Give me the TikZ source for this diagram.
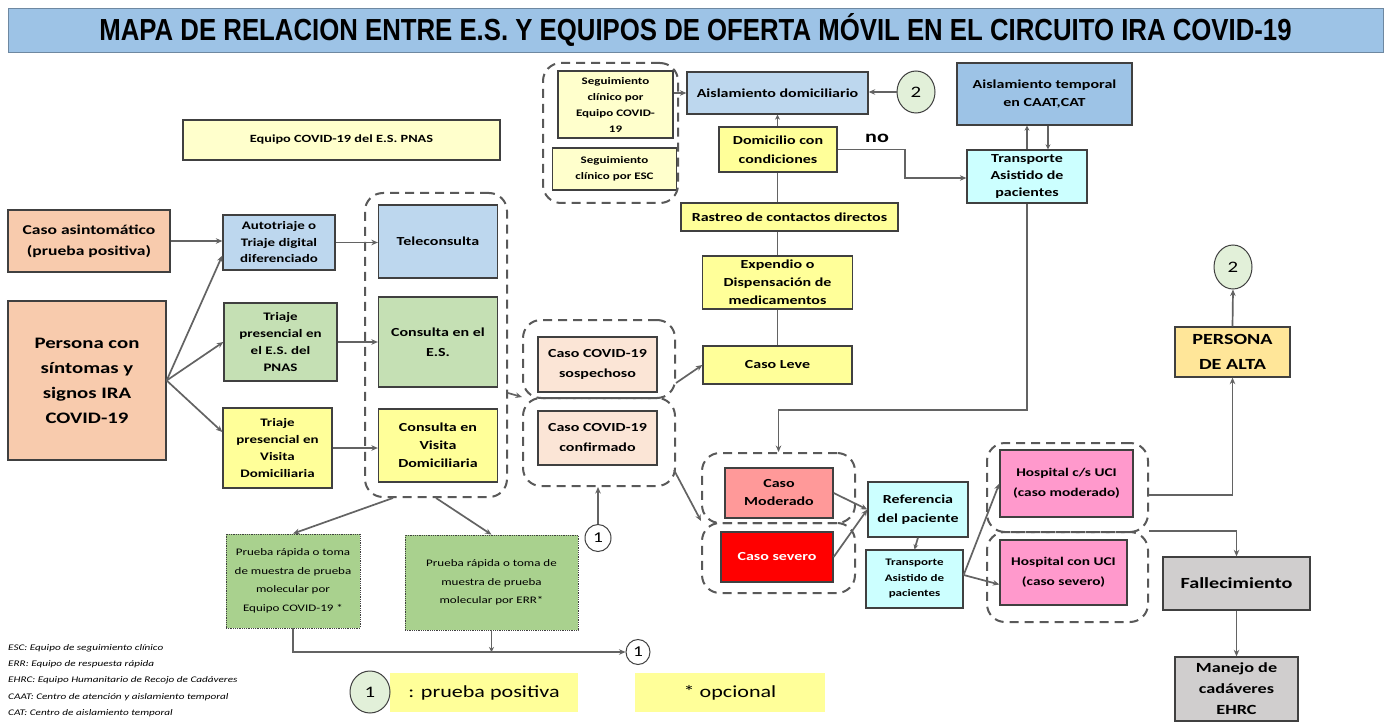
\documentclass[tikz,border=0pt]{standalone}
\usepackage{graphicx}
\usepackage{fontspec}
\setmainfont{Carlito}[FakeStretch=1.3]
\newfontfamily\titlefont{Liberation Sans}
\usetikzlibrary{arrows.meta,shapes.geometric}
\definecolor{titleblue}{HTML}{9DC3E6}
\definecolor{ltblue}{HTML}{BDD7EE}
\definecolor{midblue}{HTML}{9DC3E6}
\definecolor{green}{HTML}{C5E0B4}
\definecolor{yel}{HTML}{FFFF99}
\definecolor{ltyel}{HTML}{FFFFCC}
\definecolor{peach}{HTML}{F8CBAD}
\definecolor{lpeach}{HTML}{FBE5D6}
\definecolor{salmon}{HTML}{FF9999}
\definecolor{sred}{HTML}{FF0000}
\definecolor{cyan}{HTML}{CCFFFF}
\definecolor{pink}{HTML}{FF99CC}
\definecolor{gold}{HTML}{FFE699}
\definecolor{gry}{HTML}{D0CECE}
\definecolor{pgreen}{HTML}{A9D18E}
\definecolor{cgreen}{HTML}{E2F0D9}
\definecolor{boxline}{HTML}{404040}
\definecolor{arrline}{HTML}{636363}
\definecolor{grpline}{HTML}{595959}
\newcommand\fs[2]{\fontsize{#1}{#2}\selectfont}
\tikzset{
  box/.style={draw=boxline, line width=1.3pt, align=center, inner sep=0pt, font=\bfseries\fs{12.3}{18}},
  grp/.style={draw=grpline, dash pattern=on 9pt off 6pt, line width=2pt, rounded corners=18pt, inner sep=0pt},
  arr/.style={draw=arrline, line width=1.7pt, -{Stealth[length=6.5pt,width=5.5pt]}},
  sarr/.style={draw=arrline, line width=1.7pt, -{Stealth[length=5pt,width=5pt]}},
  ln/.style={draw=arrline, line width=1.7pt},
  num/.style={ellipse, draw=boxline, line width=1pt, inner sep=0pt, font=\fs{16}{16}},
  legtxt/.style={anchor=west, inner sep=0pt, font=\itshape\fs{8.6}{10}},
  legbox/.style={fill=yel, inner sep=0pt, minimum height=39pt, font=\fs{17}{20}}
}
\begin{document}
\begin{tikzpicture}[x=1pt,y=-1pt]
\useasboundingbox (0,0) rectangle (1392,722);
\fill[white] (0,0) rectangle (1392,722);
% title
\node[draw=titleblue!70!black, line width=0.8pt, fill=titleblue, minimum width=1375pt, minimum height=44pt, inner sep=0pt] (title) at (695.5,30)
  {\raisebox{-1pt}{\titlefont\bfseries\resizebox{1192pt}{27pt}{MAPA DE RELACION ENTRE E.S. Y EQUIPOS DE OFERTA MÓVIL EN EL CIRCUITO IRA COVID-19}}};
% left
\node[box,fill=ltyel,minimum width=317pt,minimum height=40pt,font=\bfseries\fs{11}{14}] (equipo) at (341.5,140) {Equipo COVID-19 del E.S. PNAS};
\node[box,fill=peach,minimum width=162pt,minimum height=62pt,font=\bfseries\fs{13.5}{21}] (asint) at (89,241) {Caso asintomático\\(prueba positiva)};
\node[box,fill=peach,minimum width=158pt,minimum height=159pt,font=\bfseries\fs{16}{25}] (persona) at (87,380.5) {Persona con\\síntomas y\\signos IRA\\COVID-19};
\node[box,fill=ltblue,minimum width=112pt,minimum height=55pt,font=\bfseries\fs{11.5}{16.5}] (auto) at (279,242.5) {Autotriaje o\\Triaje digital\\diferenciado};
\node[box,fill=green,minimum width=113pt,minimum height=78pt,font=\bfseries\fs{11.5}{17}] (triajeES) at (280.5,342) {Triaje\\presencial en\\el E.S. del\\PNAS};
\node[box,fill=yel,minimum width=109pt,minimum height=80pt,font=\bfseries\fs{11.5}{17}] (triajeVD) at (277.5,448) {Triaje\\presencial en\\Visita\\Domiciliaria};
% consultas
\node[box,fill=ltblue,minimum width=119pt,minimum height=73pt] (tele) at (438,241.5) {Teleconsulta};
\node[box,fill=green,minimum width=119pt,minimum height=90pt,font=\bfseries\fs{12.3}{20}] (consES) at (438,342) {Consulta en el\\E.S.};
\node[box,fill=yel,minimum width=119pt,minimum height=73pt] (consVD) at (438,445.5) {Consulta en\\Visita\\Domiciliaria};
\node[grp,minimum width=142pt,minimum height=304pt] (g1) at (436,345) {};
% casos
\node[box,fill=lpeach,minimum width=119pt,minimum height=55pt,font=\bfseries\fs{12.3}{20}] (sosp) at (597.5,364.5) {Caso COVID-19\\sospechoso};
\node[box,fill=lpeach,minimum width=119pt,minimum height=54pt,font=\bfseries\fs{12.3}{20}] (conf) at (597.5,438) {Caso COVID-19\\confirmado};
\node[grp,minimum width=152pt,minimum height=78pt] (g2) at (599,359) {};
\node[grp,minimum width=152pt,minimum height=88pt] (g3) at (599,442) {};
% caso leve column
\node[box,fill=yel,minimum width=149pt,minimum height=38pt] (leve) at (777.5,365) {Caso Leve};
\node[box,fill=yel,minimum width=150pt,minimum height=53pt] (expendio) at (777.5,282.5) {Expendio o\\Dispensación de\\medicamentos};
\node[box,fill=yel,minimum width=217pt,minimum height=28pt] (rastreo) at (789.5,217) {Rastreo de contactos directos};
\node[box,fill=yel,minimum width=118pt,minimum height=45pt,font=\bfseries\fs{12.3}{19}] (domicilio) at (778,149.5) {Domicilio con\\condiciones};
\node[box,fill=ltblue,minimum width=181pt,minimum height=42pt] (aisdom) at (777.5,93) {Aislamiento domiciliario};
\node[num,fill=cgreen,minimum width=38pt,minimum height=42pt] (c2a) at (916,92) {2};
% seguimiento
\node[box,fill=ltyel,minimum width=115pt,minimum height=67pt,font=\bfseries\fs{10}{16}] (seg1) at (615.5,104.5) {Seguimiento\\clínico por\\Equipo COVID-\\19};
\node[box,fill=ltyel,minimum width=124pt,minimum height=42pt,font=\bfseries\fs{10}{16}] (seg2) at (614.5,169) {Seguimiento\\clínico por ESC};
\node[grp,minimum width=135pt,minimum height=140pt] (gseg) at (610.5,133) {};
% transporte / aislamiento temporal
\node[box,fill=midblue,minimum width=175pt,minimum height=62pt] (aistemp) at (1044.5,94) {Aislamiento temporal\\en CAAT,CAT};
\node[box,fill=cyan,minimum width=120pt,minimum height=53pt,font=\bfseries\fs{12.3}{17}] (transp1) at (1027,176.5) {Transporte\\Asistido de\\pacientes};
\node[font=\bfseries\fs{17}{17},inner sep=0pt] (nolab) at (877,138) {no};
\coordinate (noB) at (905,178);
\coordinate (turn) at (778.5,410);
% moderado / severo
\node[box,fill=salmon,minimum width=108pt,minimum height=50pt] (modC) at (779,493) {Caso\\Moderado};
\node[box,fill=sred,minimum width=112pt,minimum height=50pt,text=white] (sevC) at (777,557) {Caso severo};
\node[grp,minimum width=153pt,minimum height=70pt] (gmod) at (778.5,488) {};
\node[grp,minimum width=153pt,minimum height=70pt] (gsev) at (778.5,558) {};
\node[box,fill=cyan,minimum width=100pt,minimum height=55pt,font=\bfseries\fs{12.3}{19}] (ref) at (918,509.5) {Referencia\\del paciente};
\node[box,fill=cyan,minimum width=97pt,minimum height=58pt,font=\bfseries\fs{10}{15.5}] (transp2) at (914.5,579) {Transporte\\Asistido de\\pacientes};
% hospitals
\node[box,fill=pink,minimum width=133pt,minimum height=67pt,font=\bfseries\fs{11.8}{20}] (hosp1) at (1066.5,483.5) {Hospital c/s UCI\\(caso moderado)};
\node[box,fill=pink,minimum width=127pt,minimum height=65pt,font=\bfseries\fs{11.8}{20}] (hosp2) at (1063.5,572.5) {Hospital con UCI\\(caso severo)};
\node[grp,minimum width=161pt,minimum height=89pt] (gh1) at (1067.5,487.5) {};
\node[grp,minimum width=161pt,minimum height=90pt] (gh2) at (1067.5,577) {};
% right column
\node[box,fill=gold,minimum width=115pt,minimum height=50pt,font=\bfseries\fs{15.5}{25}] (alta) at (1232.5,352) {PERSONA\\DE ALTA};
\node[num,fill=cgreen,minimum width=38pt,minimum height=44pt] (c2b) at (1233,267) {2};
\node[box,fill=gry,minimum width=147pt,minimum height=53pt,font=\bfseries\fs{15.5}{20}] (fall) at (1236.5,583.5) {Fallecimiento};
\node[box,fill=gry,minimum width=123pt,minimum height=64pt,font=\bfseries\fs{14}{21}] (manejo) at (1236.5,689) {Manejo de\\cadáveres\\EHRC};
% pruebas
\node[box,fill=pgreen,line width=0.8pt,densely dotted,minimum width=134pt,minimum height=94pt,font=\fs{10}{18.5}] (p1) at (293,581) {Prueba rápida o toma\\de muestra de prueba\\molecular por\\Equipo COVID-19 *};
\node[box,fill=pgreen,line width=0.8pt,densely dotted,minimum width=173pt,minimum height=95pt,font=\fs{10}{18.5}] (p2) at (491.5,582.5) {Prueba rápida o toma de\\muestra de prueba\\molecular por ERR*};
\node[num,fill=white,minimum width=26pt,minimum height=27pt,font=\fs{15}{15}] (c1a) at (598,538) {1};
\node[num,fill=white,minimum width=24pt,minimum height=25pt,font=\fs{15}{15}] (c1b) at (638,652) {1};
% legend
\node[legbox,minimum width=188pt] (legpos) at (484,692.5) {: prueba positiva};
\node[num,fill=cgreen,minimum width=40pt,minimum height=42pt] (c1leg) at (370,692) {1};
\node[legbox,minimum width=190pt] (legopc) at (730,692.5) {* opcional};
\node[legtxt] (l1) at (8,648) {ESC: Equipo de seguimiento clínico};
\node[legtxt] (l2) at (8,664) {ERR: Equipo de respuesta rápida};
\node[legtxt] (l3) at (8,680) {EHRC: Equipo Humanitario de Recojo de Cadáveres};
\node[legtxt] (l4) at (8,697) {CAAT: Centro de atención y aislamiento temporal};
\node[legtxt] (l5) at (8,713) {CAT: Centro de aislamiento temporal};
% connectors
\draw[arr] (asint.east) -- (asint.east -| auto.west);
\draw[arr] (persona.east) -- ([yshift=-13pt]auto.west);
\draw[arr] (persona.east) -- (triajeES.west);
\draw[arr] (persona.east) -- ([yshift=16pt]triajeVD.west);
\draw[arr] (auto.east) -- (auto.east -| tele.west);
\draw[arr] (triajeES.east) -- (triajeES.east -| consES.west);
\draw[arr] (triajeVD.east) -- (triajeVD.east -| consVD.west);
\draw[arr] ([yshift=-48pt]g1.east) -- (g3.north west);
\draw[arr] ([yshift=-24pt]g2.east) -- (leve.west);
\draw[ln] (leve) -- (expendio);
\draw[ln] (expendio.north) -- (expendio.north |- rastreo.south);
\draw[ln] (rastreo.north -| expendio.north) -- (domicilio.south -| expendio.north);
\draw[sarr] (domicilio.north -| expendio.north) -- (aisdom.south -| expendio.north);
\draw[arr] (c2a.west) -- (c2a.west -| aisdom.east);
\draw[arr] (seg1.east |- aisdom.west) -- (aisdom.west);
\draw[arr] (domicilio.east) -| (noB) -- (noB -| transp1.west);
\draw[sarr] (transp1.north) -- (transp1.north |- aistemp.south);
\draw[sarr] ([xshift=21pt]transp1.north |- aistemp.south) -- ([xshift=21pt]transp1.north);
\draw[arr] (transp1.south) |- (turn) -- (gmod.north);
\draw[arr] ([xshift=-2pt,yshift=-28pt]g3.east) -- ([yshift=-33pt]gmod.west);
\draw[arr] (c1a) -- (c1a |- g3.south);
\draw[arr] (modC.east) -- (ref.west);
\draw[arr] (sevC.east) -- (ref.west);
\draw[sarr] (ref.south) -- (transp2.north);
\draw[arr] ([yshift=4pt]transp2.east) -- (hosp1.west);
\draw[arr] ([yshift=4pt]transp2.east) -- ([yshift=-12pt]hosp2.west);
\draw[arr] ([yshift=-7.5pt]gh1.east) -| (alta.south);
\draw[arr] (gh2.north east) -| (fall.north);
\draw[arr] (alta.north) -- (c2b.south);
\draw[arr] (fall.south) -- (manejo.north);
\draw[arr] ([xshift=-43pt]g1.south) -- (p1.north);
\draw[arr] (g1.south) -- (p2.north);
\draw[arr] (p1.south) |- (c1b.west);
\draw[sarr] (p2.south) -- (p2.south |- c1b.west);
\end{tikzpicture}
\end{document}
